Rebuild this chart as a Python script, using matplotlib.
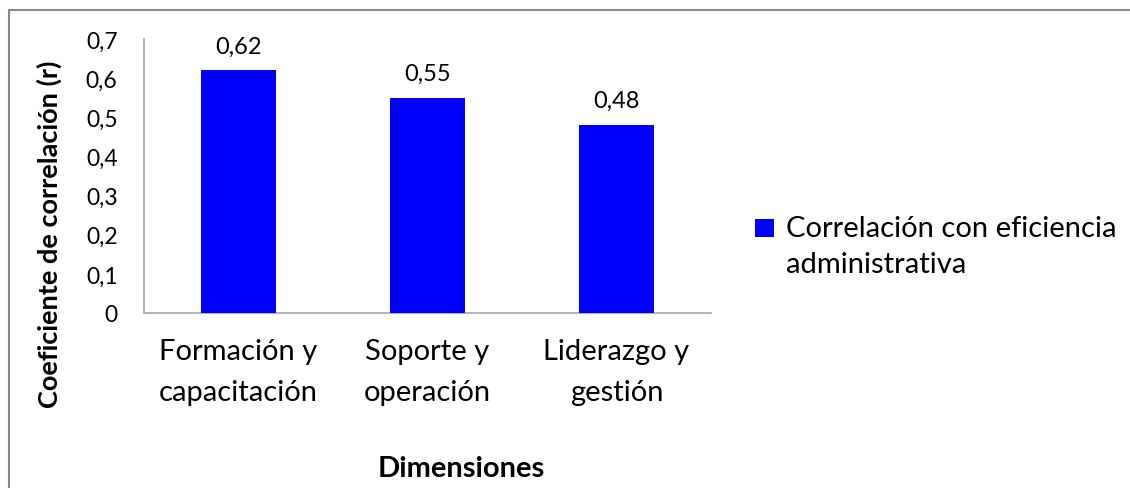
import matplotlib

matplotlib.use("Agg")
import matplotlib.pyplot as plt
from matplotlib.legend_handler import HandlerPatch
from matplotlib.patches import Rectangle

categories = ["Formación y\ncapacitación", "Soporte y\noperación", "Liderazgo y\ngestión"]
values = [0.62, 0.55, 0.48]
series_label = "Correlación con eficiencia\nadministrativa"
yticks = [0, 0.1, 0.2, 0.3, 0.4, 0.5, 0.6, 0.7]

BLUE = "#0000ff"
BORDER = "#898989"
AXIS = "#a6a6a6"
FONT = "Lato"

plt.rcParams["font.family"] = [FONT, "DejaVu Sans"]


def _raised_square(legend, orig_handle, xdescent, ydescent, width, height, fontsize):
    # Excel puts the marker next to the first line of a wrapped label
    side = 0.64 * fontsize
    return Rectangle((-xdescent, -ydescent + 0.66 * fontsize), side, side)


fig = plt.figure(figsize=(11.30, 4.89), dpi=100, facecolor="white")
fig.patches.append(
    Rectangle((9 / 1130, -0.1), 1.2, 1.1 - 11 / 489, transform=fig.transFigure,
              fill=False, edgecolor=BORDER, linewidth=1.5)
)
ax = fig.add_axes([144 / 1130, 1 - 314 / 489, 567 / 1130, 274 / 489])

positions = range(len(categories))
bars = ax.bar(positions, values, width=0.40, color=BLUE, zorder=3)
for x, v in zip(positions, values):
    ax.annotate(f"{v:.2f}".replace(".", ","), (x, v), xytext=(0, 10), textcoords="offset points",
                ha="center", va="bottom", fontsize=17, color="black")

ax.set_xlim(-0.5, len(categories) - 0.5)
ax.set_ylim(0, 0.7)
ax.set_yticks(yticks)
ax.set_yticklabels([f"{t:g}".replace(".", ",") for t in yticks], fontsize=16.5)
ax.set_xticks(list(positions))
ax.set_xticklabels(categories, fontsize=21, linespacing=1.72)
ax.tick_params(axis="both", length=0, colors="black")
ax.tick_params(axis="y", pad=19)
ax.tick_params(axis="x", pad=18)
for spine in ("top", "right"):
    ax.spines[spine].set_visible(False)
for spine in ("left", "bottom"):
    ax.spines[spine].set_color(AXIS)
    ax.spines[spine].set_linewidth(1.2)

ax.set_ylabel("Coeficiente de correlación (r)", fontsize=19.5, fontweight="bold")
ax.yaxis.set_label_coords((62 - 144) / 567, (314 - 234) / 274)
fig.text(461 / 1130, 1 - 477 / 489, "Dimensiones", ha="center", va="baseline",
         fontsize=21, fontweight="bold")

handle = bars.patches[0]
leg = ax.legend([handle], [series_label], loc="center left",
                bbox_to_anchor=(755 / 1130, 1 - 247 / 489),
                bbox_transform=fig.transFigure, frameon=False, fontsize=21,
                handlelength=0.62, handletextpad=0.45, borderaxespad=0, borderpad=0,
                handler_map={Rectangle: HandlerPatch(patch_func=_raised_square)})
for t in leg.get_texts():
    t.set_linespacing(1.45)

fig.savefig("out.png", dpi=100, facecolor="white")
